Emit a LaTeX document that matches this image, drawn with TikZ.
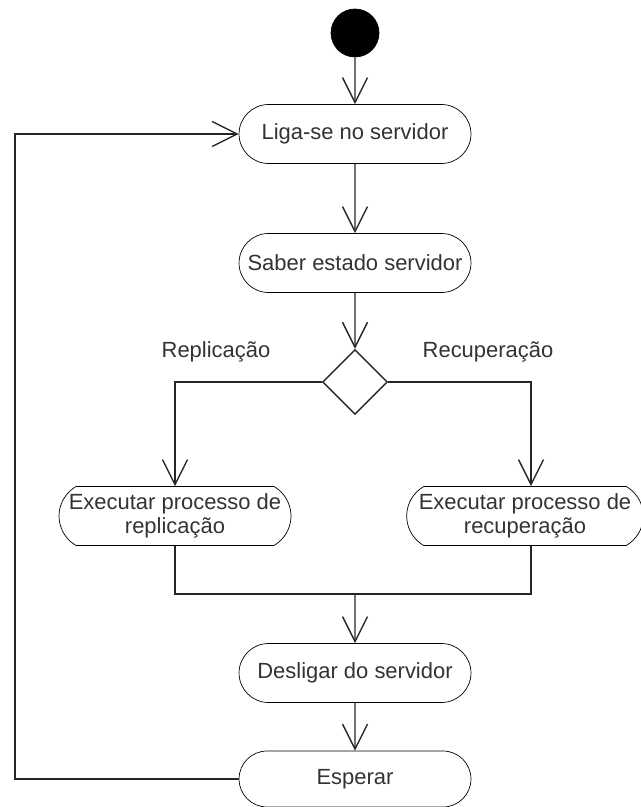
\documentclass[tikz,border=0pt]{standalone}
\usepackage{fontspec}
\setmainfont{Liberation Sans}
\usepackage{tikz}
\usetikzlibrary{arrows.meta,shapes.geometric,shapes.misc}

\begin{document}
\begin{tikzpicture}[x=0.02cm,y=-0.02cm,
    acao/.style={draw,rounded rectangle,minimum width=4.78cm,minimum height=1.18cm,inner sep=2pt,align=center,font=\fontsize{12.5}{14}\selectfont,text=black!80},
    seta/.style={-{Straight Barb[length=5mm,width=5mm]},line width=0.8pt,draw=black!85},
    linha/.style={line width=0.8pt,draw=black!85},
    rotulo/.style={font=\fontsize{12.5}{14}\selectfont,text=black!80}]
    \useasboundingbox (0,0) rectangle (640,807);
    \node[draw,circle,fill=black,minimum size=0.96cm,inner sep=0] (inicio) at (355,33) {};
    \node[acao] (liga) at (355,134) {Liga-se no servidor};
    \node[acao] (saber) at (355,263) {Saber estado servidor};
    \node[draw,diamond,minimum width=1.3cm,minimum height=1.3cm,inner sep=0,line width=0.8pt,draw=black!85] (decisao) at (355,382) {};
    \node[acao,minimum width=4.78cm,rounded rectangle arc length=120] (repl) at (175,516) {Executar processo de\\replicação};
    \node[acao,minimum width=4.58cm,rounded rectangle arc length=120] (recu) at (525,516) {Executar processo de\\recuperação};
    \node[acao] (desligar) at (355,673) {Desligar do servidor};
    \node[acao,minimum height=1.12cm] (esperar) at (355,779) {Esperar};
    \node[rotulo] (lrepl) at (216,352) {Replicação};
    \node[rotulo] (lrecu) at (488,352) {Recuperação};
    \coordinate (juncao) at (355,594);
    \coordinate (volta) at (15,779);
    \draw[seta] (inicio) to (liga);
    \draw[seta] (liga) to (saber);
    \draw[seta] (saber) to (decisao);
    \draw[seta] (decisao.west) -| (repl.north);
    \draw[seta] (decisao.east) -| ([xshift=0.12cm]recu.north);
    \draw[linha] (repl.south) |- (juncao) -| ([xshift=0.12cm]recu.south);
    \draw[seta] (juncao) to (desligar);
    \draw[seta] (desligar) to (esperar);
    \draw[seta] (esperar.west) -- (volta) |- (liga.west);
\end{tikzpicture}
\end{document}
